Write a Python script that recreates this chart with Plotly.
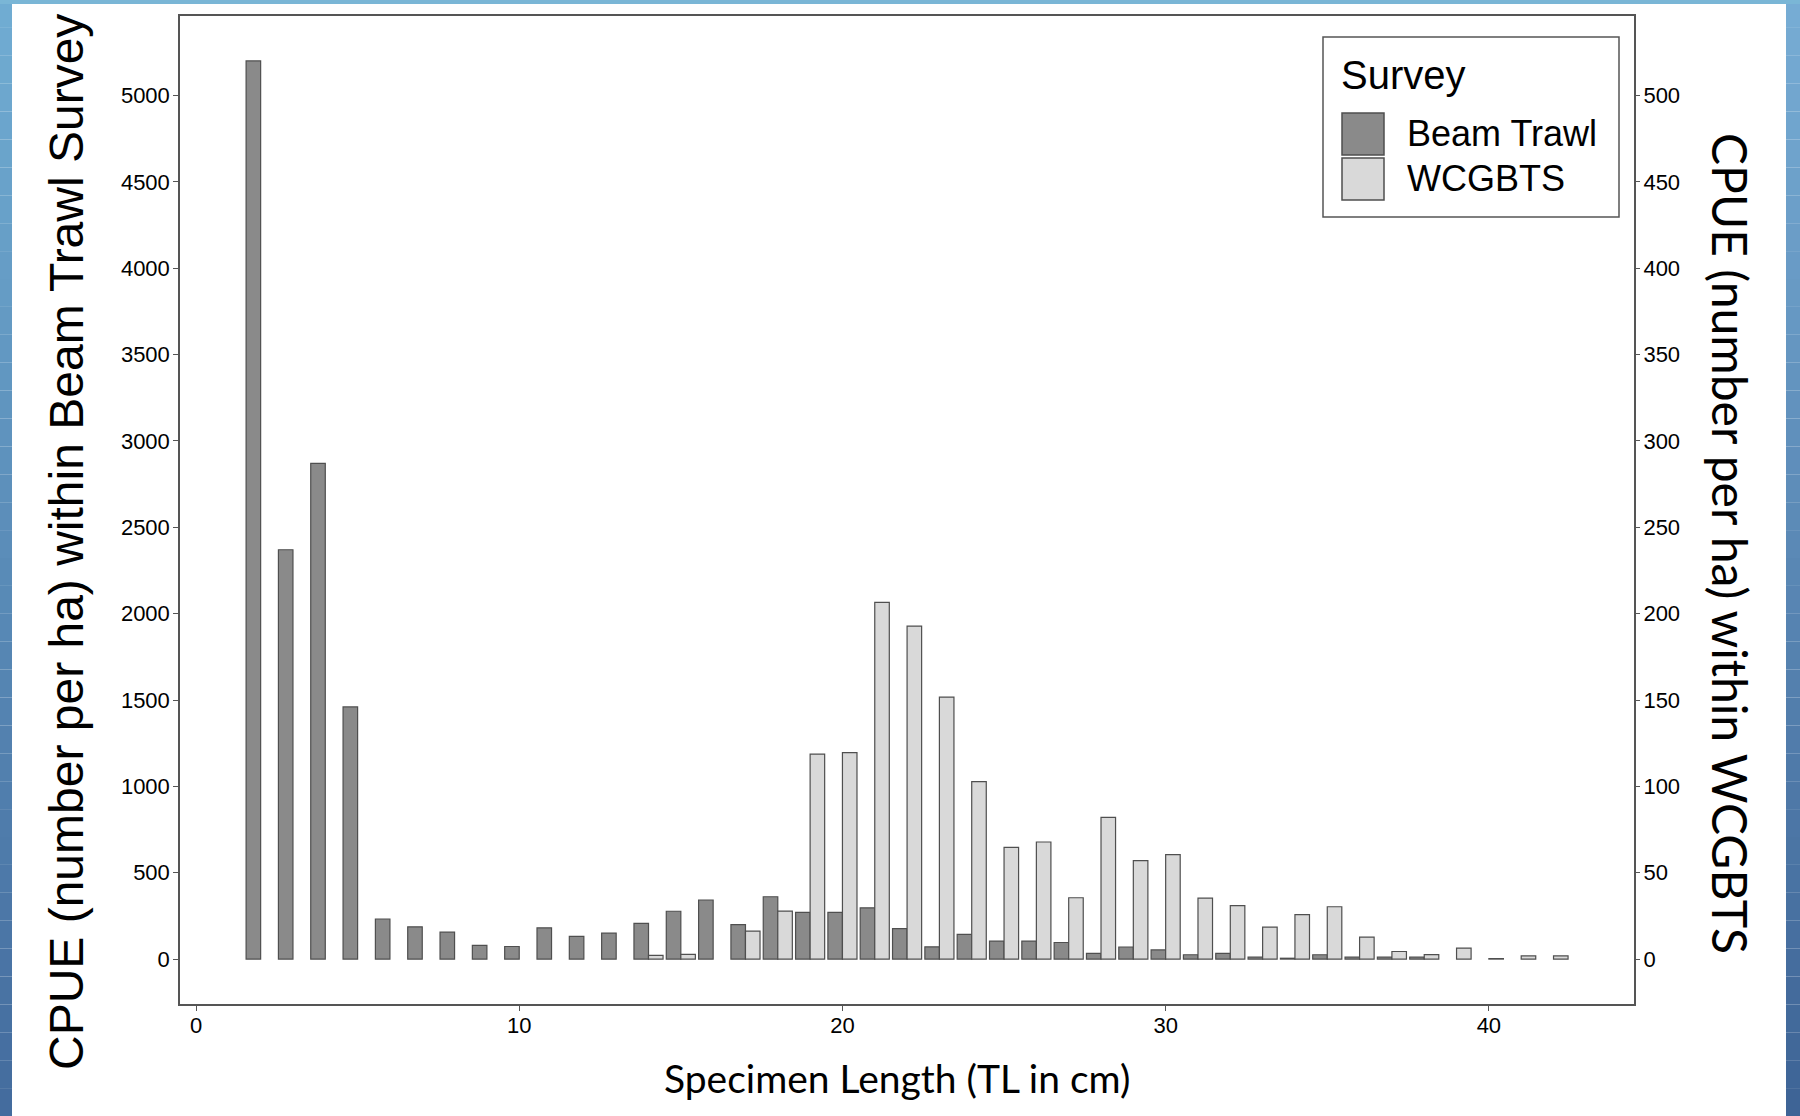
import plotly.graph_objects as go

# Length bins (TL, cm)
lengths = list(range(2, 43))

# CPUE (number per ha), Beam Trawl survey - left axis
beam_trawl = [5200, 2370, 2870, 1460, 232, 187, 156, 79, 73, 181,
              131, 150, 207, 277, 342, 200, 361, 271, 271, 297,
              176, 71, 143, 104, 104, 96, 33, 70, 53, 25,
              33, 11, 5, 25, 11, 11, 11, None, None, None,
              None]

# CPUE (number per ha), WCGBTS - right axis
wcgbts = [None, None, None, None, None, None, None, None, None, None,
          None, None, 2.1, 2.7, None, 16.2, 27.8, 118.7, 119.5, 206.5,
          192.8, 151.7, 102.7, 64.7, 67.8, 35.5, 82.0, 57.0, 60.5, 35.3,
          31.0, 18.5, 25.7, 30.3, 12.7, 4.4, 2.6, 6.4, 0.3, 1.9,
          1.9]

left_ticks = list(range(0, 5001, 500))
right_ticks = list(range(0, 501, 50))
x_ticks = [0, 10, 20, 30, 40]

BEAM_FILL = "#8a8a8a"
WCG_FILL = "#d9d9d9"
EDGE = "#4f4f4f"
AXIS = "#555555"

W, H = 1800, 1116
L, R, T, B = 180, 1634, 16, 1004


def px(xp):
    return (xp - L) / (R - L)


def py(yp):
    return (B - yp) / (B - T)


fig = go.Figure()
fig.add_trace(go.Bar(
    x=lengths, y=beam_trawl, name="Beam Trawl",
    width=0.45, offset=-0.45,
    marker=dict(color=BEAM_FILL, line=dict(color=EDGE, width=1.2)),
    showlegend=False,
))
fig.add_trace(go.Bar(
    x=lengths, y=wcgbts, name="WCGBTS", yaxis="y2",
    width=0.45, offset=0,
    marker=dict(color=WCG_FILL, line=dict(color=EDGE, width=1.2)),
    showlegend=False,
))

tick_font = dict(family="Liberation Sans, Arial, sans-serif", size=22, color="#000000")

fig.update_layout(
    width=W, height=H,
    margin=dict(l=L, r=W - R, t=T, b=H - B, autoexpand=False),
    paper_bgcolor="#ffffff",
    plot_bgcolor="#ffffff",
    barmode="overlay",
    xaxis=dict(
        range=[-0.495, 44.49], tickvals=x_ticks, ticks="outside", ticklen=5,
        tickwidth=1.3, tickcolor=AXIS, showline=True, linecolor=AXIS,
        linewidth=1.5, mirror=True, showgrid=False, zeroline=False,
        tickfont=tick_font, ticklabelstandoff=-4,
    ),
    yaxis=dict(
        range=[-260, 5460], tickvals=left_ticks, ticks="outside", ticklen=5,
        tickwidth=1.3, tickcolor=AXIS, showline=True, linecolor=AXIS,
        linewidth=1.5, mirror=True, showgrid=False, zeroline=False,
        tickfont=tick_font, ticklabelstandoff=-1,
    ),
    yaxis2=dict(
        range=[-26, 546], tickvals=right_ticks, ticks="outside", ticklen=5,
        tickwidth=1.3, tickcolor=AXIS, overlaying="y", side="right",
        showline=False, showgrid=False, zeroline=False, tickfont=tick_font,
        ticklabelstandoff=-1,
    ),
)

# Blue slide backdrop along the page edges
shapes = []
n_bands = 40


def blend(c1, c2, t):
    return "rgb(%d,%d,%d)" % tuple(round(a + (b - a) * t) for a, b in zip(c1, c2))


left_top, left_bot = (112, 172, 210), (68, 108, 158)
right_top, right_bot = (118, 172, 212), (62, 100, 150)
for i in range(n_bands):
    y0 = H * i / n_bands
    y1 = H * (i + 1) / n_bands
    t = i / (n_bands - 1)
    shapes.append(dict(type="rect", xref="paper", yref="paper",
                       x0=px(0), x1=px(12), y0=py(y1), y1=py(y0),
                       fillcolor=blend(left_top, left_bot, t), line=dict(width=0),
                       layer="below"))
    shapes.append(dict(type="rect", xref="paper", yref="paper",
                       x0=px(1786), x1=px(W), y0=py(y1), y1=py(y0),
                       fillcolor=blend(right_top, right_bot, t), line=dict(width=0),
                       layer="below"))
shapes.append(dict(type="rect", xref="paper", yref="paper",
                   x0=px(0), x1=px(W), y0=py(4), y1=py(0),
                   fillcolor="rgb(122,182,214)", line=dict(width=0), layer="below"))

# Legend box and swatches
shapes.append(dict(type="rect", xref="paper", yref="paper",
                   x0=px(1323), x1=px(1619), y0=py(217), y1=py(37),
                   fillcolor="#ffffff", line=dict(color=AXIS, width=1.5)))
shapes.append(dict(type="rect", xref="paper", yref="paper",
                   x0=px(1342), x1=px(1384), y0=py(155), y1=py(113),
                   fillcolor=BEAM_FILL, line=dict(color=EDGE, width=1.5)))
shapes.append(dict(type="rect", xref="paper", yref="paper",
                   x0=px(1342), x1=px(1384), y0=py(200), y1=py(158),
                   fillcolor=WCG_FILL, line=dict(color=EDGE, width=1.5)))

annotations = [
    dict(text="Survey", xref="paper", yref="paper", x=px(1339), y=py(75),
         xanchor="left", yanchor="middle", showarrow=False,
         font=dict(family="Liberation Sans, Arial, sans-serif", size=40, color="#000")),
    dict(text="Beam Trawl", xref="paper", yref="paper", x=px(1405), y=py(134),
         xanchor="left", yanchor="middle", showarrow=False,
         font=dict(family="Liberation Sans, Arial, sans-serif", size=36, color="#000")),
    dict(text="WCGBTS", xref="paper", yref="paper", x=px(1405), y=py(178),
         xanchor="left", yanchor="middle", showarrow=False,
         font=dict(family="Liberation Sans, Arial, sans-serif", size=36, color="#000")),
    # Axis titles
    dict(text="CPUE (number per ha) within Beam Trawl Survey", xref="paper", yref="paper",
         x=px(66), y=py(542), xanchor="center", yanchor="middle", textangle=-90,
         showarrow=False,
         font=dict(family="Liberation Sans, Arial, sans-serif", size=48, color="#000")),
    dict(text="CPUE (number per ha) within WCGBTS", xref="paper", yref="paper",
         x=px(1731), y=py(543), xanchor="center", yanchor="middle", textangle=90,
         showarrow=False,
         font=dict(family="Lato, sans-serif", size=48, color="#000")),
    dict(text="Specimen Length (TL in cm)", xref="paper", yref="paper",
         x=px(897), y=py(1078), xanchor="center", yanchor="middle",
         showarrow=False,
         font=dict(family="Lato, sans-serif", size=39, color="#000")),
]

fig.update_layout(shapes=shapes, annotations=annotations)

fig.write_html("out.html")
